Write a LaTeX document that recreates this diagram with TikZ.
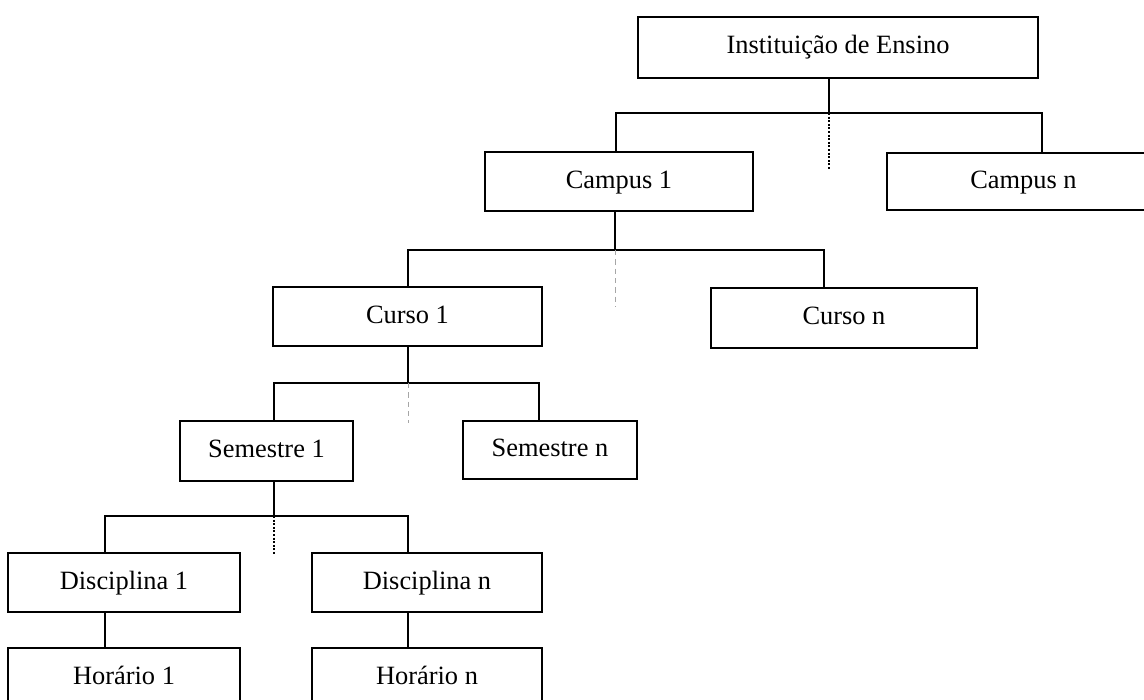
\documentclass[tikz,border=0pt]{standalone}
\usepackage{fontspec}
\setmainfont{Liberation Serif}
\begin{document}
\begin{tikzpicture}[x=0.75pt,y=-0.75pt,
  box/.style 2 args={draw, line width=1pt, inner sep=0pt,
    minimum width=#1*0.75pt, minimum height=#2*0.75pt,
    text height=13pt, text depth=3.25pt,
    font=\fontsize{19.8}{24}\selectfont},
  link/.style={line width=1pt},
  gap dots/.style={line width=0.8pt, dash pattern=on 1.5pt off 1.2pt},
  gap dash/.style={line width=0.5pt, gray!70, dash pattern=on 4pt off 3pt}]
\clip (0,0) rectangle (1144,699);
\fill[white] (0,0) rectangle (1144,699);

% boxes of the hierarchy
\node[box={400}{61}] (inst)    at (838,47.5)    {Instituição de Ensino};
\node[box={268}{59}] (campus1) at (619,181.5)   {Campus 1};
\node[box={273}{57}] (campusn) at (1023.5,181.5){Campus n};
\node[box={269}{59}] (curso1)  at (407.5,316.5) {Curso 1};
\node[box={266}{60}] (curson)  at (844,318)     {Curso n};
\node[box={173}{60}] (sem1)    at (266.5,451)   {Semestre 1};
\node[box={174}{58}] (semn)    at (550,450)     {Semestre n};
\node[box={232}{59}] (disc1)   at (124,582.5)   {Disciplina 1};
\node[box={230}{59}] (discn)   at (427,582.5)   {Disciplina n};
\node[box={232}{59}] (hor1)    at (124,677.5)   {Horário 1};
\node[box={230}{59}] (horn)    at (427,677.5)   {Horário n};

% Instituição -> campi
\coordinate (b0)  at (829,113);
\coordinate (b0l) at (616,113);
\coordinate (b0r) at (1042,113);
\draw[link] (inst.south -| b0) -- (b0);
\draw[link] (campus1.north -| b0l) -- (b0l) -- (b0r) -- (campusn.north -| b0r);
\draw[gap dots] (b0) -- ++(0,57);

% Campus 1 -> cursos
\coordinate (b1)  at (615,250);
\coordinate (b1l) at (408,250);
\coordinate (b1r) at (824,250);
\draw[link] (campus1.south -| b1) -- (b1);
\draw[link] (curso1.north -| b1l) -- (b1l) -- (b1r) -- (curson.north -| b1r);
\draw[gap dash] (b1) -- ++(0,57);

% Curso 1 -> semestres
\coordinate (b2)  at (408,383);
\coordinate (b2l) at (274,383);
\coordinate (b2r) at (539,383);
\draw[link] (curso1.south -| b2) -- (b2);
\draw[link] (sem1.north -| b2l) -- (b2l) -- (b2r) -- (semn.north -| b2r);
\draw[gap dash] (b2) -- ++(0,40);

% Semestre 1 -> disciplinas
\coordinate (b3)  at (274,516);
\coordinate (b3l) at (105,516);
\coordinate (b3r) at (408,516);
\draw[link] (sem1.south -| b3) -- (b3);
\draw[link] (disc1.north -| b3l) -- (b3l) -- (b3r) -- (discn.north -| b3r);
\draw[gap dots] (b3) -- ++(0,39);

% disciplinas -> horários
\draw[link] (disc1.south -| b3l) -- (hor1.north -| b3l);
\draw[link] (discn.south -| b3r) -- (horn.north -| b3r);
\end{tikzpicture}
\end{document}
